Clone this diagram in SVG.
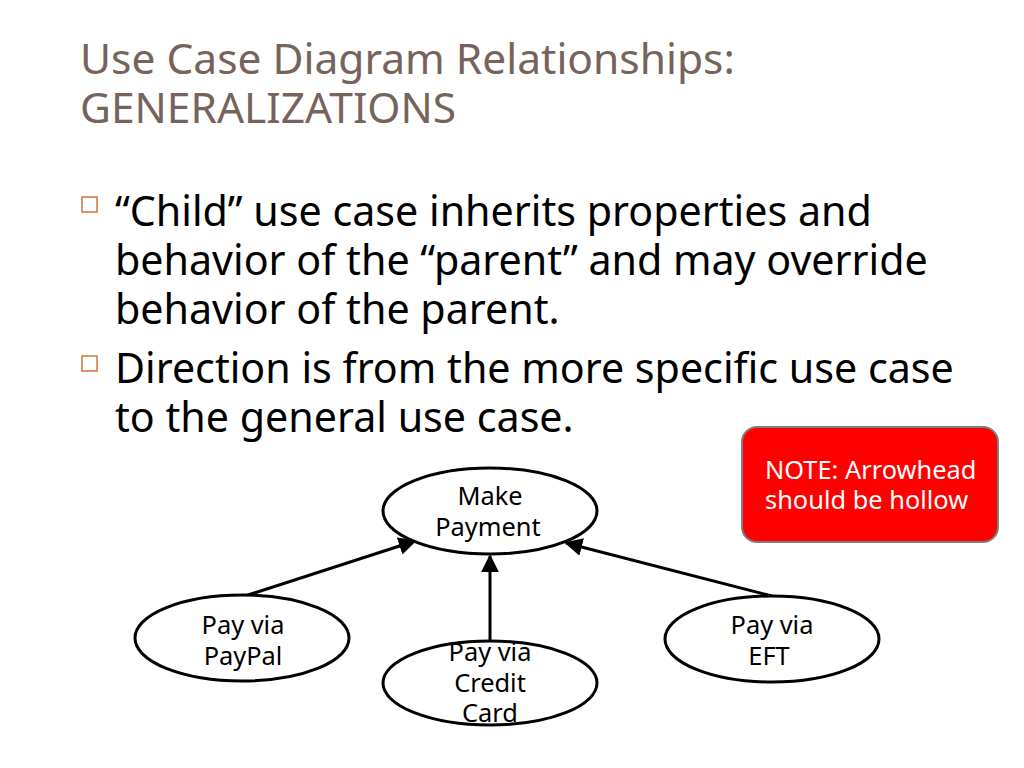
<svg xmlns="http://www.w3.org/2000/svg" width="1024" height="768" viewBox="0 0 1024 768">
<defs>
<style>
.title{font-family:"Noto Sans","Open Sans",sans-serif;font-size:42.5px;fill:#76635a}
.body{font-family:"Noto Sans","Open Sans",sans-serif;font-size:41.2px;fill:#000}
.bul{fill:none;stroke:#d9895a;stroke-width:1.8}
.uc{fill:#fff;stroke:#000;stroke-width:3}
.lbl{font-family:"Noto Sans","Open Sans",sans-serif;font-size:25.4px;fill:#000;text-anchor:middle}
.conn{stroke:#000;stroke-width:3;fill:none;marker-end:url(#arr)}
.note{font-family:"Noto Sans","Open Sans",sans-serif;font-size:25.4px;fill:#fff}
</style>
<marker id="arr" viewBox="0 0 10 10" refX="9" refY="5" markerWidth="6" markerHeight="6" orient="auto" markerUnits="strokeWidth">
<path d="M0,0 L10,5 L0,10 z" fill="#000"/>
</marker>
</defs>
<rect width="1024" height="768" fill="#fff"/>
<text class="title" x="80" y="74">Use Case Diagram Relationships:</text>
<text class="title" x="80" y="123">GENERALIZATIONS</text>
<rect class="bul" x="82" y="197" width="15" height="15"/>
<text class="body" x="115" y="226">“Child” use case inherits properties and</text>
<text class="body" x="115" y="275">behavior of the “parent” and may override</text>
<text class="body" x="115" y="324">behavior of the parent.</text>
<rect class="bul" x="82" y="356" width="15" height="15"/>
<text class="body" x="115" y="383">Direction is from the more specific use case</text>
<text class="body" x="115" y="432">to the general use case.</text>
<g id="connectors">
<line class="conn" x1="245" y1="596" x2="415" y2="541"/>
<line class="conn" x1="490" y1="640" x2="490" y2="556"/>
<line class="conn" x1="772" y1="596" x2="566" y2="543"/>
</g>
<g id="make-payment">
<ellipse class="uc" cx="490" cy="511" rx="107" ry="43"/>
<text class="lbl" x="490" y="505">Make</text>
<text class="lbl" x="488" y="536">Payment</text>
</g>
<g id="pay-paypal">
<ellipse class="uc" cx="242" cy="638" rx="107" ry="43"/>
<text class="lbl" x="243" y="634">Pay via</text>
<text class="lbl" x="243" y="665">PayPal</text>
</g>
<g id="pay-credit">
<ellipse class="uc" cx="490" cy="683" rx="107" ry="42"/>
<text class="lbl" x="490" y="661">Pay via</text>
<text class="lbl" x="490" y="692">Credit</text>
<text class="lbl" x="490" y="722">Card</text>
</g>
<g id="pay-eft">
<ellipse class="uc" cx="772" cy="639" rx="107" ry="43"/>
<text class="lbl" x="772" y="634">Pay via</text>
<text class="lbl" x="769" y="665">EFT</text>
</g>
<g id="note">
<rect x="742" y="427" width="256" height="115" rx="15" fill="#ff0000" stroke="#7f7f7f" stroke-width="2"/>
<text class="note" x="765" y="479">NOTE: Arrowhead</text>
<text class="note" x="765" y="509">should be hollow</text>
</g>
</svg>
